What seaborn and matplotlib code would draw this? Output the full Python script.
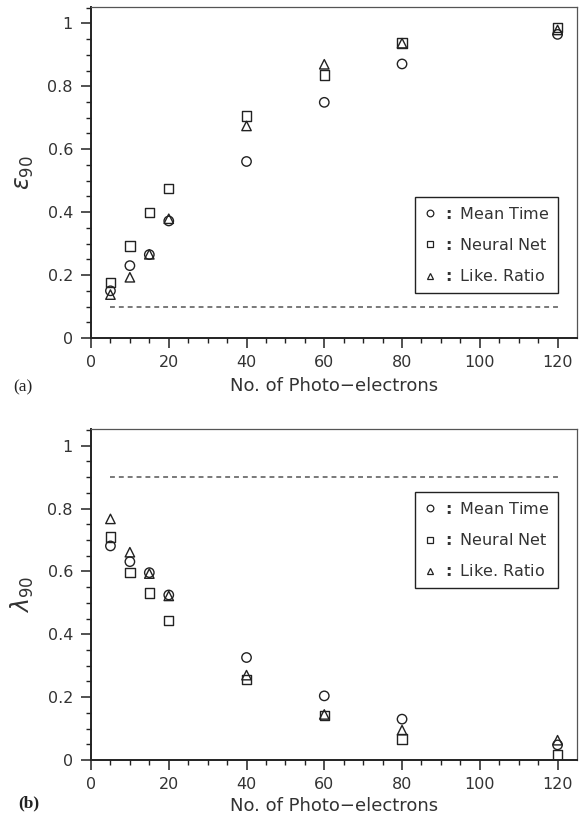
import numpy as np
import pandas as pd
import matplotlib
matplotlib.use("Agg")
import matplotlib.pyplot as plt
from matplotlib.lines import Line2D
import seaborn as sns

# ---------------- data ----------------
n_pe = [5, 10, 15, 20, 40, 60, 80, 120]
methods = ["Mean Time", "Neural Net", "Like. Ratio"]

eff_mean_time = [0.150, 0.230, 0.265, 0.372, 0.561, 0.749, 0.871, 0.965]
eff_neural_net = [0.176, 0.293, 0.399, 0.475, 0.705, 0.836, 0.937, 0.986]
eff_like_ratio = [0.138, 0.193, 0.266, 0.379, 0.674, 0.870, 0.937, 0.979]

lam_mean_time = [0.681, 0.631, 0.596, 0.525, 0.326, 0.204, 0.130, 0.048]
lam_neural_net = [0.709, 0.596, 0.531, 0.444, 0.256, 0.141, 0.067, 0.016]
lam_like_ratio = [0.767, 0.661, 0.593, 0.522, 0.270, 0.145, 0.095, 0.063]

eff_reference = 0.1
lam_reference = 0.9
ref_x = [5, 120]

x_ticks = [0, 20, 40, 60, 80, 100, 120]
y_ticks = [0, 0.2, 0.4, 0.6, 0.8, 1.0]
y_ticklabels = ["0", "0.2", "0.4", "0.6", "0.8", "1"]

markers = {"Mean Time": "o", "Neural Net": "s", "Like. Ratio": "^"}

# ---------------- style ----------------
sns.set_theme(style="ticks")
plt.rcParams["font.family"] = ["DejaVu Sans"]

W, H = 586, 814
fig = plt.figure(figsize=(W / 100, H / 100), dpi=100)

def ax_rect(left, right, top, bottom):
    return [left / W, 1 - bottom / H, (right - left) / W, (bottom - top) / H]

ax1 = fig.add_axes(ax_rect(91, 577, 7, 338))
ax2 = fig.add_axes(ax_rect(91, 577, 429.3, 760))

def make_df(a, b, c):
    rows = []
    for m, vals in zip(methods, [a, b, c]):
        for x, y in zip(n_pe, vals):
            rows.append({"n": x, "v": y, "method": m})
    return pd.DataFrame(rows)

df_eff = make_df(eff_mean_time, eff_neural_net, eff_like_ratio)
df_lam = make_df(lam_mean_time, lam_neural_net, lam_like_ratio)

ink = "#222222"
txt = "#333333"

def draw(ax, df, ref, ylabel, legend_anchor, xlabelpad):
    for m in methods:
        sub = df[df["method"] == m]
        sns.scatterplot(data=sub, x="n", y="v", marker=markers[m], s=46,
                        facecolor="none", edgecolor=ink, linewidth=1.0,
                        ax=ax, legend=False, zorder=3)
    ax.hlines(ref, ref_x[0], ref_x[1], colors="#555555", linestyles=(0, (3.2, 2.6)),
              linewidth=1.1, zorder=2)
    ax.set_xlim(0, 125)
    ax.set_ylim(0, 1.052)
    ax.set_xticks(x_ticks)
    ax.set_xticklabels([str(t) for t in x_ticks])
    ax.set_xticks(np.arange(0, 125, 5), minor=True)
    ax.set_yticks(y_ticks)
    ax.set_yticklabels(y_ticklabels)
    ax.set_yticks(np.arange(0, 1.051, 0.05), minor=True)
    ax.tick_params(axis="both", which="major", direction="out", length=7.5,
                   width=1.1, color=ink, labelsize=11.5, labelcolor=txt)
    ax.tick_params(axis="y", which="major", pad=5.5)
    ax.tick_params(axis="x", which="major", pad=5)
    ax.tick_params(axis="both", which="minor", direction="out", length=3.5,
                   width=1.0, color=ink)
    for side in ["left", "bottom"]:
        ax.spines[side].set_linewidth(1.4)
        ax.spines[side].set_color(ink)
    for side in ["top", "right"]:
        ax.spines[side].set_linewidth(0.9)
        ax.spines[side].set_color("#555555")
        ax.spines[side].set_visible(True)
    ax.set_xlabel("No. of Photo\u2212electrons", fontsize=13, color=txt, labelpad=xlabelpad)
    ax.set_ylabel(ylabel, fontsize=17, color=txt, labelpad=8)

    handles = [Line2D([], [], linestyle="none", marker=markers[m], markersize=4.8,
                      markerfacecolor="none", markeredgecolor=ink, markeredgewidth=0.9)
               for m in methods]
    labels = [r"$\mathbf{:}$ " + m for m in methods]
    leg = ax.legend(handles, labels, loc="upper right", bbox_to_anchor=legend_anchor,
                    frameon=True, fancybox=False, edgecolor=ink, framealpha=1,
                    fontsize=11.5, handlelength=0.8, handletextpad=0.35,
                    labelspacing=0.95, borderpad=0.55, borderaxespad=0)
    leg.get_frame().set_linewidth(1.0)
    for t in leg.get_texts():
        t.set_color(txt)

draw(ax1, df_eff, eff_reference, r"$\varepsilon_{90}$", (0.961, 0.426), 5)
draw(ax2, df_lam, lam_reference, r"$\lambda_{90}$", (0.961, 0.810), 3)

fig.text(13 / W, 1 - 387 / H, "(a)", fontsize=12.5, family="Liberation Serif",
         va="center", ha="left", color="#222222")
fig.text(18 / W, 1 - 803 / H, "(b)", fontsize=12.5, family="Liberation Serif",
         va="center", ha="left", color="#222222", fontweight="bold")

fig.savefig("out.png", dpi=100)
